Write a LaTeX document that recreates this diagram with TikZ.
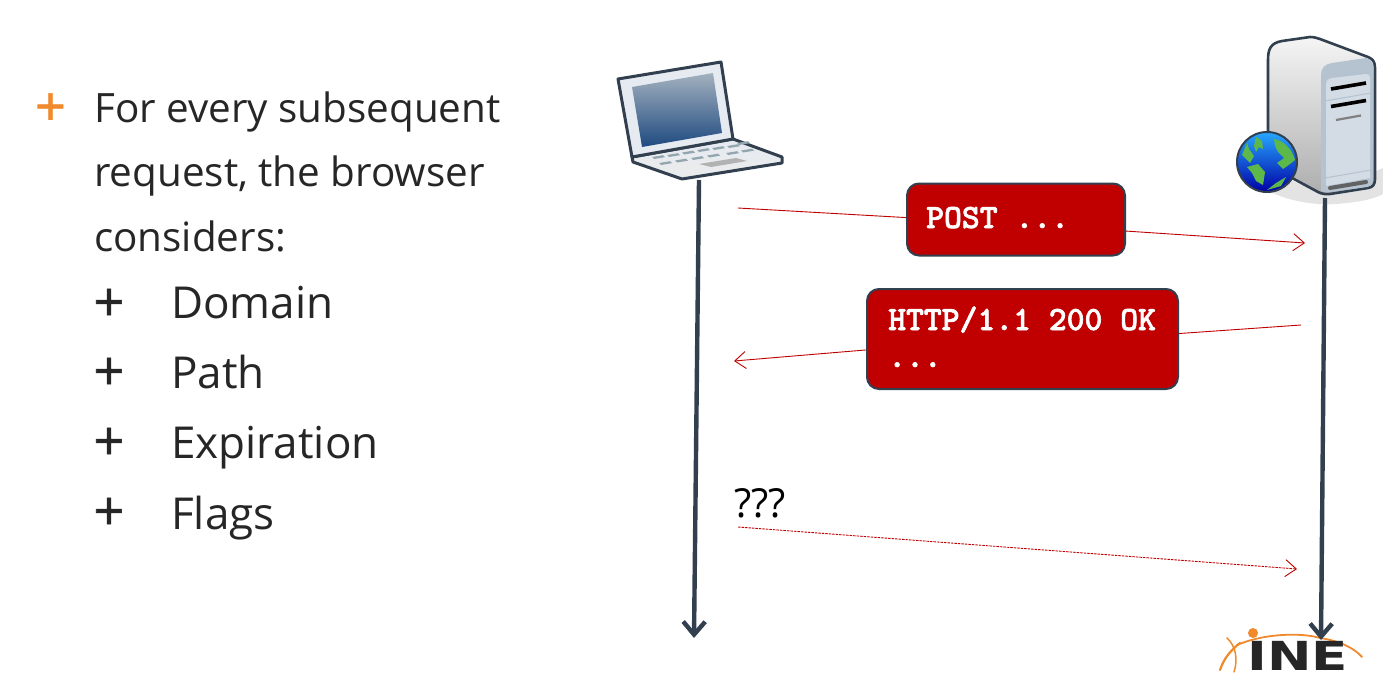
\documentclass[tikz,border=0pt]{standalone}
\usepackage{fontspec}
\setmainfont{Open Sans}
\newfontfamily\logofont{DejaVu Sans}
\newfontfamily\boxmono{Latin Modern Mono Light}[FakeBold=1.8]
\usetikzlibrary{arrows.meta}
\definecolor{slate}{HTML}{323F4F}
\definecolor{boxred}{HTML}{C00000}
\definecolor{inkd}{HTML}{262626}
\definecolor{ineorange}{HTML}{F08A2C}
\definecolor{globeg}{HTML}{5DB84A}
\definecolor{scrtop}{HTML}{A3B1BE}
\definecolor{scrbot}{HTML}{1F4A80}
\definecolor{lidfill}{HTML}{E6EBF2}
\definecolor{keyc}{HTML}{93A5AE}
\definecolor{panelc}{HTML}{D3DBE5}
\definecolor{panelt}{HTML}{B5C2D0}
\tikzset{
  bodytext/.style={anchor=base west,inner sep=0pt,text=inkd,font=\fontsize{40.4}{50}\selectfont},
  subtext/.style={anchor=base west,inner sep=0pt,text=inkd,font=\fontsize{44}{50}\selectfont},
  plusmark/.style={anchor=base,inner sep=0pt,text=inkd,font=\addfontfeature{FakeBold=1.2}\fontsize{54}{60}\selectfont},
  redbox/.style={draw=slate,line width=2pt,fill=boxred,rounded corners=12pt,inner sep=0pt},
  boxtext/.style={anchor=base west,inner sep=0pt,text=white,font=\boxmono\bfseries\fontsize{34}{40}\selectfont},
  msg/.style={draw=boxred,line width=0.9pt,-{Straight Barb[length=11pt,width=17pt,line width=0.9pt]}},
  msgplain/.style={draw=boxred,line width=0.9pt},
  life/.style={draw=slate,line width=4.4pt,-{Straight Barb[length=13pt,width=22pt,line width=4.4pt]}},
}
\begin{document}
\begin{tikzpicture}[x=1pt,y=-1pt]
\useasboundingbox (0,0) rectangle (1383,685);
% left text
\node[plusmark,text=ineorange] (p0) at (50.5,125.5) {+};
\node[bodytext] (t1) at (94,122) {For every subsequent};
\node[bodytext] (t2) at (94,186) {request, the browser};
\node[bodytext] (t3) at (94,251) {considers:};
\node[plusmark] (p1) at (109,321) {+};
\node[subtext] (s1) at (171,318) {Domain};
\node[plusmark] (p2) at (109,390) {+};
\node[subtext] (s2) at (171,388) {Path};
\node[plusmark] (p3) at (109,460) {+};
\node[subtext] (s3) at (171,458) {Expiration};
\node[plusmark] (p4) at (109,530) {+};
\node[subtext] (s4) at (171,529) {Flags};
% server shadow
\fill[black!11] (1262,186) .. controls (1275,198) and (1310,206) .. (1335,204) .. controls (1355,203) and (1375,199) .. (1383,194) -- (1383,168) -- (1374,172) -- (1374,186) -- (1326,194) -- (1290,180) -- cycle;
% lifelines anchors
\coordinate (lapbase) at (699,180);
\coordinate (lapend) at (694,638);
\coordinate (srvbase) at (1325,198);
\coordinate (srvend) at (1321,640);
% INE logo
\begin{scope}[draw=ineorange,line cap=round]
\draw[line width=1.8pt] (1237,645) .. controls (1262,634) and (1300,632) .. (1320,638) .. controls (1340,641) and (1354,648) .. (1362,657);
\draw[line width=2.2pt] (1220,670) .. controls (1224,658) and (1231,650) .. (1240,643);
\draw[line width=1.5pt] (1227,638) .. controls (1236,646) and (1238,660) .. (1234,672);
\fill[ineorange] (1253,633) circle (5);
\end{scope}
\node[inner sep=0pt,anchor=base west,xscale=1.33,text=inkd,font=\logofont\bfseries\fontsize{40}{40}\selectfont] (ine) at (1247,670) {INE};
% lifelines
\draw[life] (lapbase) -- (lapend);
\draw[life] (srvbase) -- (srvend);
% laptop
\begin{scope}[line join=round]
\draw[draw=slate,line width=3pt,top color=lidfill,bottom color=black!8] (632,157) -- (733,139) -- (782,157) -- (782,163) -- (682,179) -- (633,162) -- cycle;
\draw[draw=slate,line width=3pt,fill=lidfill] (618,79) -- (721,62) -- (733,139) -- (632,157) -- cycle;
\shade[top color=scrtop,bottom color=scrbot] (632,87) -- (713,73) -- (722,133) -- (642,147) -- cycle;
\fill[black!30] (699,164) -- (736,158) -- (747,161) -- (711,167) -- cycle;
\foreach \a/\b in {652/157,667/155,682/152.5,697/150,712/148,727/146,659/163,675/160.5,691/158,707/155.5,726/153,741/150.5,737/143}
  \fill[keyc] (\a,\b) -- ++(11,-1.8) -- ++(2,2) -- ++(-11,1.8) -- cycle;
\end{scope}
% server
\begin{scope}[line join=round]
\draw[draw=slate,line width=2.6pt,top color=black!4,bottom color=black!32] (1268,60) .. controls (1268,50) and (1270,43) .. (1282,41) -- (1310,37) .. controls (1314,37) and (1317,38) .. (1320,39) -- (1368,57) .. controls (1373,59) and (1375,62) .. (1375,68) -- (1375,178) .. controls (1375,185) and (1373,187) .. (1368,188) -- (1330,194) .. controls (1326,194.5) and (1322,194) .. (1318,192) -- (1268,165) -- cycle;
\fill[panelt] (1321,190) -- (1321,75) .. controls (1321,68) and (1325,64) .. (1332,63) -- (1366,58) .. controls (1372,60) and (1373,63) .. (1373,68) -- (1373,178) .. controls (1373,184) and (1371,186) .. (1367,187) -- (1330,192) .. controls (1325,192) and (1321,192) .. (1321,190) -- cycle;
\fill[panelc] (1326,85) .. controls (1326,80) and (1328,79) .. (1332,78) -- (1366,74) .. controls (1369,74) and (1370,75) .. (1370,78) -- (1370,178) -- (1326,186) -- cycle;
\draw[black,line width=3.6pt] (1331,89) -- (1366,83);
\draw[black,line width=3.6pt] (1331,106.5) -- (1366,100.5);
\draw[black!50,line width=2.2pt] (1336,120) -- (1361,115.5);
\draw[panelt,line width=1pt] (1325,101) -- (1371,93);
\draw[panelt,line width=1pt] (1325,178) -- (1371,170);
\draw[black!62,line width=4pt,line cap=round] (1330,188) -- (1366,182);
% globe
\draw[draw=slate,line width=2pt,top color=cyan!60!blue!85,bottom color=blue!65!black] (1267,162) circle (30);
\fill[globeg] (1256,137) -- (1262,141) -- (1263,149) -- (1259,147) -- (1256,152) -- (1254,146) -- cycle;
\fill[globeg] (1274,139) .. controls (1282,140) and (1292,148) .. (1295,160) -- (1290,164) -- (1283,169) -- (1277,163) -- (1284,158) -- (1278,152) -- (1275,146) -- cycle;
\fill[globeg] (1247,143) -- (1242,155) -- (1250,163) -- (1254,156) -- (1249,149) -- cycle;
\fill[globeg] (1247,167) -- (1258,164) -- (1265,172) -- (1263,185) -- (1256,181) -- (1252,173) -- cycle;
\fill[globeg] (1267,190) -- (1276,183) -- (1286,177) -- (1281,186) -- cycle;
\end{scope}
% boxes
\node[redbox,minimum width=218pt,minimum height=72pt] (post) at (1016,219.5) {};
\node[boxtext] (postt) at (926,228) {POST ...};
\node[redbox,minimum width=311pt,minimum height=100pt] (resp) at (1022.5,339) {};
\node[boxtext] (respa) at (888,330) {HTTP/1.1 200 OK};
\node[boxtext] (respb) at (888,367) {...};
% connectors
\coordinate (c1) at (738,208);
\coordinate (c2) at (1305,243);
\coordinate (c3) at (1301,325);
\coordinate (c4) at (734,361);
\coordinate (c5) at (738,527);
\coordinate (c6) at (1297,569);
\draw[msgplain] (c1) -- (post.179.2);
\draw[msg] (post.-6.5) -- (c2);
\draw[msgplain] (c3) -- (resp.2.2);
\draw[msg] (resp.184.8) -- (c4);
\draw[msg,dash pattern=on 2.5pt off 1pt] (c5) -- (c6);
\node[anchor=base west,inner sep=0pt,text=black,font=\fontsize{40}{44}\selectfont] (q) at (734,517) {???};
\end{tikzpicture}
\end{document}
